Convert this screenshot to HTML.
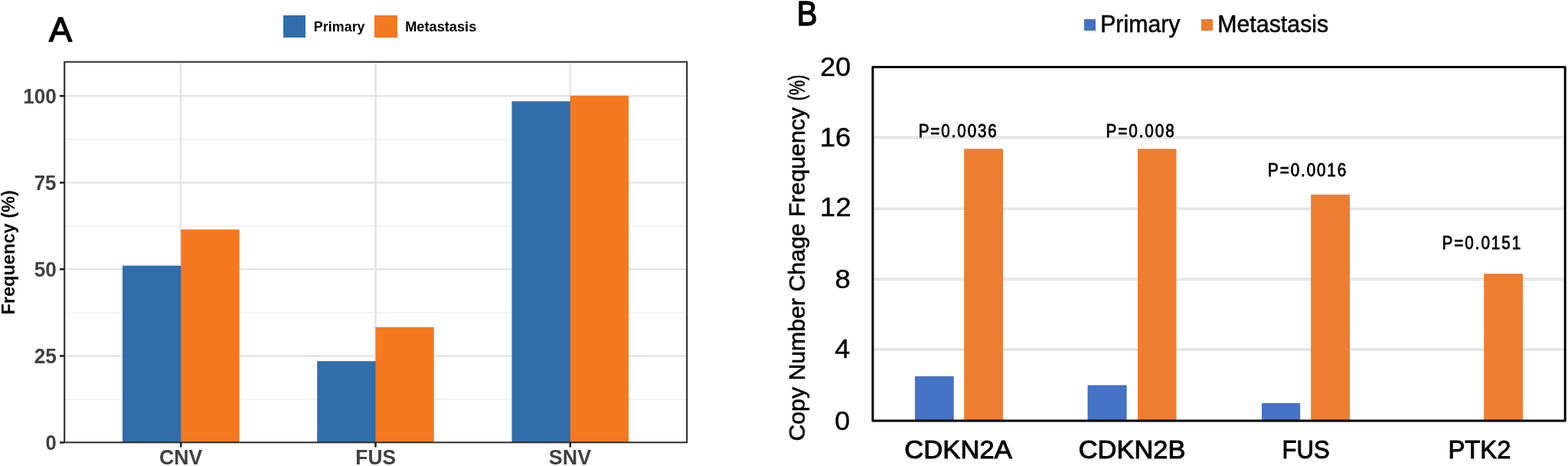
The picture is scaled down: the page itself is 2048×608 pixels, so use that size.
<!DOCTYPE html>
<html>
<head>
<meta charset="utf-8">
<title>Primary vs Metastasis</title>
<style>
html,body{margin:0;padding:0;background:#fff;width:2048px;height:608px;overflow:hidden;}
svg{display:block;}
text{font-family:"Liberation Sans",Arial,sans-serif;}
</style>
</head>
<body>
<svg width="2048" height="608" viewBox="0 0 2048 608">
<rect x="0" y="0" width="2048" height="608" fill="#fff"/>
<!-- ===== PANEL A ===== -->
<rect x="370" y="20" width="29" height="29" fill="#306DAA"/>
<rect x="489" y="20" width="30" height="29" fill="#F47921"/>
<g stroke="#F1F1F1" stroke-width="1.6">
<line x1="85" x2="896" y1="521.1" y2="521.1"/>
<line x1="85" x2="896" y1="408.0" y2="408.0"/>
<line x1="85" x2="896" y1="295.0" y2="295.0"/>
<line x1="85" x2="896" y1="181.9" y2="181.9"/>
</g>
<g stroke="#E5E5E5" stroke-width="2.6">
<line x1="85" x2="896" y1="464.4" y2="464.4"/>
<line x1="85" x2="896" y1="351.3" y2="351.3"/>
<line x1="85" x2="896" y1="238.3" y2="238.3"/>
<line x1="85" x2="896" y1="125.2" y2="125.2"/>
<line x1="236.1" x2="236.1" y1="81" y2="577"/>
<line x1="490.5" x2="490.5" y1="81" y2="577"/>
<line x1="744.8" x2="744.8" y1="81" y2="577"/>
</g>
<g fill="#306DAA">
<rect x="160" y="346.6" width="77.3" height="230.4"/>
<rect x="414.2" y="471.2" width="77.3" height="105.8"/>
<rect x="668.5" y="132.2" width="77.3" height="444.8"/>
</g>
<g fill="#F47921">
<rect x="236.3" y="299.4" width="76.3" height="277.6"/>
<rect x="490.5" y="426.8" width="76.3" height="150.2"/>
<rect x="744.8" y="124.8" width="76.3" height="452.2"/>
</g>
<rect x="84.2" y="80.8" width="813" height="496.4" fill="none" stroke="#2E2E2E" stroke-width="2.1" stroke-linejoin="round"/>
<g stroke="#1E1E1E" stroke-width="2.5">
<line x1="78" x2="84" y1="577.4" y2="577.4"/>
<line x1="78" x2="84" y1="464.4" y2="464.4"/>
<line x1="78" x2="84" y1="351.3" y2="351.3"/>
<line x1="78" x2="84" y1="238.3" y2="238.3"/>
<line x1="78" x2="84" y1="125.2" y2="125.2"/>
<line x1="236.3" x2="236.3" y1="578" y2="583.5"/>
<line x1="490.5" x2="490.5" y1="578" y2="583.5"/>
<line x1="744.8" x2="744.8" y1="578" y2="583.5"/>
</g>
<!-- ===== PANEL B ===== -->
<rect x="1416" y="25" width="15" height="15" fill="#4472C4"/>
<rect x="1569" y="25" width="15" height="15" fill="#ED7D31"/>
<g stroke="#F1F1F1" stroke-width="3.2">
<line x1="1141" x2="2042" y1="456.00" y2="456.00"/>
<line x1="1141" x2="2042" y1="364.40" y2="364.40"/>
<line x1="1141" x2="2042" y1="272.30" y2="272.30"/>
<line x1="1141" x2="2042" y1="179.45" y2="179.45"/>
</g>
<g stroke="#DCDCDC" stroke-width="1.1">
<line x1="1141" x2="2042" y1="454.95" y2="454.95"/>
<line x1="1141" x2="2042" y1="457.05" y2="457.05"/>
<line x1="1141" x2="2042" y1="363.35" y2="363.35"/>
<line x1="1141" x2="2042" y1="365.45" y2="365.45"/>
<line x1="1141" x2="2042" y1="271.25" y2="271.25"/>
<line x1="1141" x2="2042" y1="273.35" y2="273.35"/>
<line x1="1141" x2="2042" y1="178.40" y2="178.40"/>
<line x1="1141" x2="2042" y1="180.50" y2="180.50"/>
</g>
<g fill="#4472C4">
<rect x="1195" y="490.9" width="50.8" height="57.6"/>
<rect x="1420.6" y="502.5" width="51" height="46"/>
<rect x="1648" y="525.9" width="50.2" height="22.6"/>
</g>
<g fill="#ED7D31">
<rect x="1259.2" y="194.2" width="50.8" height="354.3"/>
<rect x="1486" y="194.2" width="50.5" height="354.3"/>
<rect x="1712.2" y="253.9" width="50.8" height="294.6"/>
<rect x="1938.2" y="357.1" width="50.8" height="191.4"/>
</g>
<rect x="1139.9" y="87.6" width="904.3" height="461.4" fill="none" stroke="#000" stroke-width="3" stroke-linejoin="round"/>

<text id="tA" x="63.94" y="53.70" fill="#000" stroke="#000" stroke-width="1.4" stroke-linejoin="round" font-size="44.5" textLength="30.11" lengthAdjust="spacingAndGlyphs">A</text>
<text id="tPrimA" x="409.87" y="40.60" font-weight="bold" fill="#000" font-size="17.5" textLength="66.73" lengthAdjust="spacingAndGlyphs">Primary</text>
<text id="tMetA" x="529.18" y="40.60" font-weight="bold" fill="#000" font-size="17.5" textLength="93.09" lengthAdjust="spacingAndGlyphs">Metastasis</text>
<text id="ya0" x="73.78" y="587.30" font-weight="bold" fill="#404040" font-size="27.5" text-anchor="end" textLength="14.23" lengthAdjust="spacingAndGlyphs">0</text>
<text id="ya25" x="74.01" y="474.40" font-weight="bold" fill="#404040" font-size="27.5" text-anchor="end" textLength="29.30" lengthAdjust="spacingAndGlyphs">25</text>
<text id="ya50" x="73.86" y="361.30" font-weight="bold" fill="#404040" font-size="27.5" text-anchor="end" textLength="29.08" lengthAdjust="spacingAndGlyphs">50</text>
<text id="ya75" x="73.50" y="248.00" font-weight="bold" fill="#404040" font-size="27.5" text-anchor="end" textLength="28.87" lengthAdjust="spacingAndGlyphs">75</text>
<text id="ya100" x="73.88" y="135.00" font-weight="bold" fill="#404040" font-size="27.5" text-anchor="end" textLength="43.61" lengthAdjust="spacingAndGlyphs">100</text>
<text id="xaCNV" x="236.15" y="606.00" font-weight="bold" fill="#404040" font-size="28" text-anchor="middle" textLength="56.49" lengthAdjust="spacingAndGlyphs">CNV</text>
<text id="xaFUS" x="490.67" y="606.00" font-weight="bold" fill="#404040" font-size="28" text-anchor="middle" textLength="52.74" lengthAdjust="spacingAndGlyphs">FUS</text>
<text id="xaSNV" x="744.50" y="606.00" font-weight="bold" fill="#404040" font-size="28" text-anchor="middle" textLength="55.27" lengthAdjust="spacingAndGlyphs">SNV</text>
<text id="tFreq" x="0" y="0" font-weight="bold" fill="#000" font-size="23.6" text-anchor="middle" textLength="162.43" lengthAdjust="spacingAndGlyphs" transform="translate(18.80,329.41) rotate(-90)">Frequency (%)</text>
<text id="tB" x="1040.69" y="33.00" fill="#000" stroke="#000" stroke-width="1.6" stroke-linejoin="round" font-size="45" textLength="26.76" lengthAdjust="spacingAndGlyphs">B</text>
<text id="tPrimB" x="1437.15" y="42.10" fill="#000" stroke="#000" stroke-width="0.5" stroke-linejoin="round" font-size="30.5" textLength="104.38" lengthAdjust="spacingAndGlyphs">Primary</text>
<text id="tMetB" x="1590.21" y="42.10" fill="#000" stroke="#000" stroke-width="0.5" stroke-linejoin="round" font-size="30.5" textLength="145.09" lengthAdjust="spacingAndGlyphs">Metastasis</text>
<text id="yb0" x="1110.26" y="560.70" fill="#000" stroke="#000" stroke-width="0.4" stroke-linejoin="round" font-size="35" text-anchor="end" textLength="19.89" lengthAdjust="spacingAndGlyphs">0</text>
<text id="yb4" x="1110.23" y="467.40" fill="#000" stroke="#000" stroke-width="0.4" stroke-linejoin="round" font-size="35" text-anchor="end" textLength="20.05" lengthAdjust="spacingAndGlyphs">4</text>
<text id="yb8" x="1110.84" y="375.80" fill="#000" stroke="#000" stroke-width="0.4" stroke-linejoin="round" font-size="35" text-anchor="end" textLength="20.37" lengthAdjust="spacingAndGlyphs">8</text>
<text id="yb12" x="1111.69" y="282.40" fill="#000" stroke="#000" stroke-width="0.4" stroke-linejoin="round" font-size="35" text-anchor="end" textLength="40.57" lengthAdjust="spacingAndGlyphs">12</text>
<text id="yb16" x="1111.53" y="191.30" fill="#000" stroke="#000" stroke-width="0.4" stroke-linejoin="round" font-size="35" text-anchor="end" textLength="40.83" lengthAdjust="spacingAndGlyphs">16</text>
<text id="yb20" x="1111.25" y="99.00" fill="#000" stroke="#000" stroke-width="0.4" stroke-linejoin="round" font-size="35" text-anchor="end" textLength="39.94" lengthAdjust="spacingAndGlyphs">20</text>
<text id="xb1" x="1251.62" y="598.00" fill="#000" stroke="#000" stroke-width="1.0" stroke-linejoin="round" font-size="34" text-anchor="middle" textLength="140.64" lengthAdjust="spacingAndGlyphs">CDKN2A</text>
<text id="xb2" x="1478.57" y="598.00" fill="#000" stroke="#000" stroke-width="1.0" stroke-linejoin="round" font-size="34" text-anchor="middle" textLength="139.64" lengthAdjust="spacingAndGlyphs">CDKN2B</text>
<text id="xb3" x="1705.59" y="598.00" fill="#000" stroke="#000" stroke-width="1.0" stroke-linejoin="round" font-size="34" text-anchor="middle" textLength="62.36" lengthAdjust="spacingAndGlyphs">FUS</text>
<text id="xb4" x="1932.46" y="598.00" fill="#000" stroke="#000" stroke-width="1.0" stroke-linejoin="round" font-size="34" text-anchor="middle" textLength="81.91" lengthAdjust="spacingAndGlyphs">PTK2</text>
<text id="p1" x="0" y="0" fill="#000" stroke="#000" stroke-width="0.8" stroke-linejoin="round" font-size="23" text-anchor="middle" textLength="113.54" lengthAdjust="spacing" transform="translate(1250.80,178.65) scale(0.9,1)">P=0.0036</text>
<text id="p2" x="0" y="0" fill="#000" stroke="#000" stroke-width="0.8" stroke-linejoin="round" font-size="23" text-anchor="middle" textLength="98.97" lengthAdjust="spacing" transform="translate(1489.14,178.65) scale(0.9,1)">P=0.008</text>
<text id="p3" x="0" y="0" fill="#000" stroke="#000" stroke-width="0.8" stroke-linejoin="round" font-size="23" text-anchor="middle" textLength="113.48" lengthAdjust="spacing" transform="translate(1707.17,229.65) scale(0.9,1)">P=0.0016</text>
<text id="p4" x="0" y="0" fill="#000" stroke="#000" stroke-width="0.8" stroke-linejoin="round" font-size="23" text-anchor="middle" textLength="114.13" lengthAdjust="spacing" transform="translate(1934.90,324.65) scale(0.9,1)">P=0.0151</text>
<text id="tCopy" x="0" y="0" fill="#000" stroke="#000" stroke-width="0.6" stroke-linejoin="round" font-size="29.6" text-anchor="middle" textLength="435.62" lengthAdjust="spacingAndGlyphs" transform="translate(1050.50,357.81) rotate(-90)">Copy Number Chage Frequency</text>
<text id="tPct" x="0" y="0" fill="#000" stroke="#000" stroke-width="0.6" stroke-linejoin="round" font-size="29.6" text-anchor="middle" textLength="33.63" lengthAdjust="spacingAndGlyphs" transform="translate(1050.50,114.35) rotate(-90)">(%)</text>
</svg>
</body>
</html>
